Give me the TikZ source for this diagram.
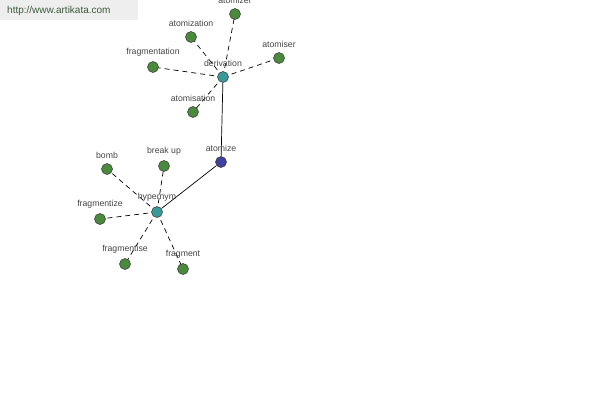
\documentclass[tikz,border=0pt]{standalone}
\usepackage{fontspec}
\setmainfont{Liberation Sans}
\usetikzlibrary{backgrounds}
\definecolor{wordGreen}{HTML}{4A8A3C}
\definecolor{hubTeal}{HTML}{3A9A9A}
\definecolor{rootBlue}{HTML}{40409E}
\definecolor{labelGray}{HTML}{444444}
\definecolor{bannerGray}{HTML}{EEEEEE}
\definecolor{bannerText}{HTML}{3C5A3C}
\tikzset{
  word/.style={circle, draw=black!80, line width=0.5pt, fill=wordGreen, minimum size=11pt, inner sep=0pt,
    label={[font=\fontsize{8.7}{10}\selectfont, text=labelGray, label distance=1pt]above:#1}},
  hub/.style={word=#1, fill=hubTeal},
  root/.style={word=#1, fill=rootBlue},
  rel/.style={dashed, dash pattern=on 5pt off 4pt, line width=0.7pt},
  link/.style={line width=0.7pt}
}
\begin{document}
\begin{tikzpicture}[x=1pt, y=-1pt]
\useasboundingbox (0,0) rectangle (600,400);
% --- site banner ---
\fill[bannerGray] (0,0) rectangle (138,20);
\node[anchor=west, font=\fontsize{10}{11}\selectfont, text=bannerText, inner sep=0pt] (site) at (7,10.5) {http://www.artikata.com};
% --- central word and relation hubs ---
\node[root=atomize] (atomize) at (221,162) {};
\node[hub=derivation] (derivation) at (223,77) {};
\node[hub=hypernym] (hypernym) at (157,212) {};
% --- derivation words ---
\node[word=atomizer] (atomizer) at (235,14) {};
\node[word=atomization] (atomization) at (191,37) {};
\node[word=fragmentation] (fragmentation) at (153,67) {};
\node[word=atomiser] (atomiser) at (279,58) {};
\node[word=atomisation] (atomisation) at (193,112) {};
% --- hypernym words ---
\node[word=bomb] (bomb) at (107,169) {};
\node[word=break up] (breakup) at (164,166) {};
\node[word=fragmentize] (fragmentize) at (100,219) {};
\node[word=fragmentise] (fragmentise) at (125,264) {};
\node[word=fragment] (fragment) at (183,269) {};
% --- connectors ---
\begin{scope}[on background layer]
\draw[link] (atomize) -- (derivation);
\draw[link] (atomize) -- (hypernym);
\foreach \w in {atomizer, atomization, fragmentation, atomiser, atomisation}
  \draw[rel] (derivation.center) -- (\w.center);
\foreach \w in {bomb, breakup, fragmentize, fragmentise, fragment}
  \draw[rel] (hypernym.center) -- (\w.center);
\end{scope}
\end{tikzpicture}
\end{document}
